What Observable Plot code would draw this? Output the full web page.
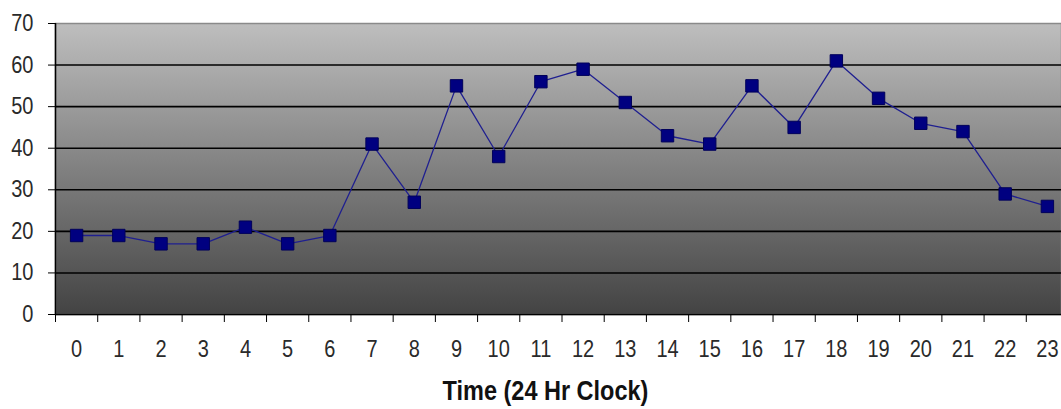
<!DOCTYPE html>
<html>
<head>
<meta charset="utf-8">
<script src="https://cdn.jsdelivr.net/npm/d3@7"></script>
<script src="https://cdn.jsdelivr.net/npm/@observablehq/plot@0.6"></script>
<style>
  html, body { margin: 0; padding: 0; background: #fff; }
  #chart svg { display: block; font-family: "Liberation Sans", Arial, sans-serif; }
</style>
</head>
<body>
<div id="chart"></div>
<script>
const hours = [0,1,2,3,4,5,6,7,8,9,10,11,12,13,14,15,16,17,18,19,20,21,22,23];
const counts = [19,19,17,17,21,17,19,41,27,55,38,56,59,51,43,41,55,45,61,52,46,44,29,26];
const yTicks = [0,10,20,30,40,50,60,70];
const gridValues = [10,20,30,40,50,60];
const xTitle = "Time (24 Hr Clock)";

const data = hours.map((h, i) => ({hour: h, value: counts[i]}));
const boundaries = hours.map(h => h - 0.5).concat([hours[hours.length - 1] + 0.5]);

const gradientDefs = () => {
  const defs = d3.create("svg:defs");
  const g = defs.append("linearGradient")
    .attr("id", "bgGrad").attr("x1", 0).attr("y1", 0).attr("x2", 0).attr("y2", 1);
  g.append("stop").attr("offset", "0%").attr("stop-color", "#bebebe");
  g.append("stop").attr("offset", "100%").attr("stop-color", "#434343");
  return defs.node();
};

const chart = Plot.plot({
  width: 1061,
  height: 409,
  marginLeft: 55,
  marginRight: 0,
  marginTop: 23,
  marginBottom: 95,
  style: {fontFamily: "'Liberation Sans', Arial, sans-serif", background: "#fff"},
  x: {domain: [boundaries[0], boundaries[boundaries.length - 1]], range: [55, 1068]},
  y: {domain: [0, 70]},
  marks: [
    gradientDefs,
    Plot.frame({fill: "url(#bgGrad)", stroke: "#8a8a8a", strokeWidth: 1.5}),
    Plot.gridY(gridValues, {stroke: "#000", strokeOpacity: 1, strokeWidth: 1.6}),
    Plot.ruleX([boundaries[0]], {stroke: "#000", strokeWidth: 1.5}),
    Plot.ruleY([0], {stroke: "#000", strokeWidth: 1.5}),
    Plot.axisY(yTicks, {tickSize: 7, tickPadding: 15, fontSize: 20, fill: "#2a2a2a", stroke: "#000", label: null}),
    Plot.axisX(boundaries, {tickSize: 8, tickFormat: () => "", stroke: "#000", label: null}),
    Plot.axisX(hours, {tickSize: 0, tickPadding: 26, fontSize: 20, fill: "#2a2a2a", label: null}),
    Plot.line(data, {x: "hour", y: "value", stroke: "#1f1f90", strokeWidth: 1.3}),
    Plot.dot(data, {x: "hour", y: "value", symbol: "square", r: 7, fill: "#000080", stroke: "#00005a", strokeWidth: 1}),
    Plot.text([xTitle], {frameAnchor: "bottom", text: d => d, dy: 85, dx: -13, fontSize: 23.5, fontWeight: "bold", fill: "#111"})
  ]
});

// slight vertical stretch of text to match the reference's tall glyphs
d3.select(chart).selectAll("text").each(function() {
  const t = this.getAttribute("transform");
  if (t) this.setAttribute("transform", t + " scale(1,1.18)");
});

document.getElementById("chart").appendChild(chart);
</script>
</body>
</html>
